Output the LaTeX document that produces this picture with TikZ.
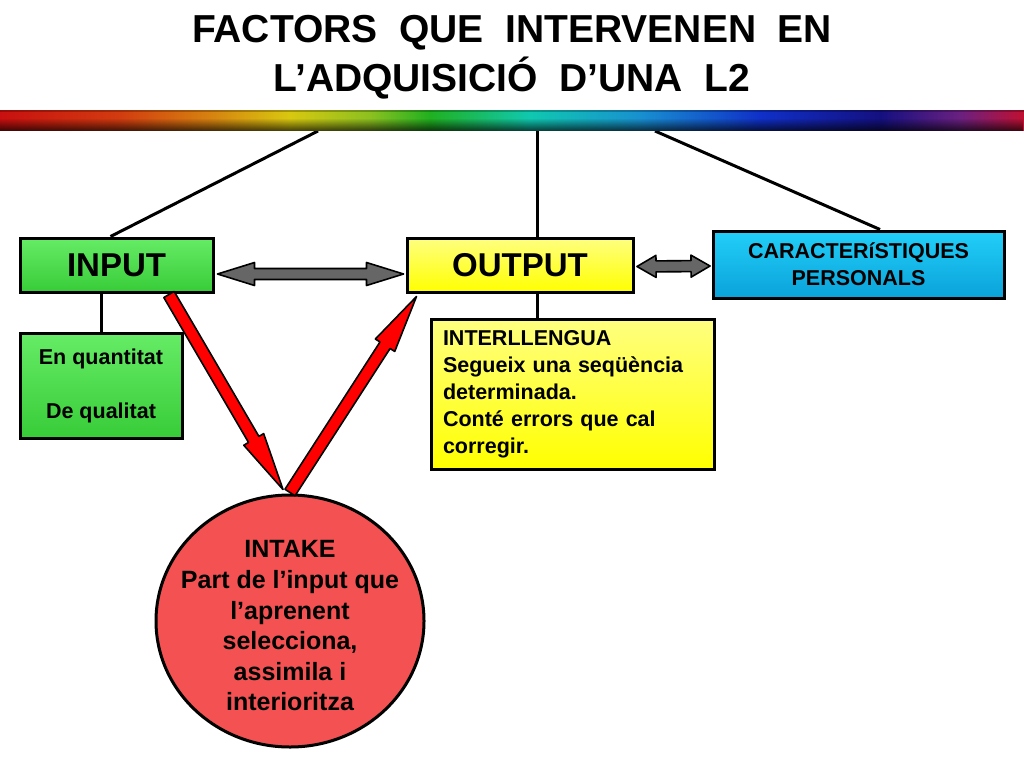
\documentclass[tikz,border=0pt]{standalone}
\usepackage{fontspec}
\setmainfont{Liberation Sans}
\usetikzlibrary{calc,shapes.geometric,fadings}
\definecolor{grtop}{HTML}{66EC66}
\definecolor{grbot}{HTML}{38CC38}
\definecolor{yeltop}{HTML}{FFFF80}
\definecolor{yelbot}{HTML}{FFFF00}
\definecolor{cytop}{HTML}{22CFF8}
\definecolor{cybot}{HTML}{0AA2DA}
\definecolor{intakered}{HTML}{F45252}
\definecolor{arrred}{HTML}{FF0000}
\definecolor{arrgray}{HTML}{666666}
\pgfdeclarelayer{background}
\pgfsetlayers{background,main}
\tikzfading[name=fadeup, top color=transparent!100, bottom color=transparent!0]
% single-headed block arrow: #1 style, #2 start, #3 end, #4 shaft half width, #5 head half width, #6 head length
\newcommand{\blkarrow}[6]{%
  \coordinate (baA) at #2;
  \coordinate (baB) at #3;
  \coordinate (baH) at ($(baB)!#6!(baA)$);
  \filldraw[#1] ($(baA)!#4!90:(baB)$) -- ($(baH)!#4!90:(baB)$) -- ($(baH)!#5!90:(baB)$) -- (baB)
    -- ($(baH)!#5!-90:(baB)$) -- ($(baH)!#4!-90:(baB)$) -- ($(baA)!#4!-90:(baB)$) -- cycle;}
% double-headed block arrow
\newcommand{\dblarrow}[6]{%
  \coordinate (daA) at #2;
  \coordinate (daB) at #3;
  \coordinate (daH) at ($(daA)!#6!(daB)$);
  \coordinate (daK) at ($(daB)!#6!(daA)$);
  \filldraw[#1] (daA) -- ($(daH)!#5!90:(daB)$) -- ($(daH)!#4!90:(daB)$) -- ($(daK)!#4!90:(daB)$)
    -- ($(daK)!#5!90:(daB)$) -- (daB) -- ($(daK)!#5!-90:(daB)$) -- ($(daK)!#4!-90:(daB)$)
    -- ($(daH)!#4!-90:(daB)$) -- ($(daH)!#5!-90:(daB)$) -- cycle;}
\begin{document}
\begin{tikzpicture}[x=1pt,y=-1pt,
  conn/.style={line width=3pt, draw=black},
  box/.style={draw=black, line width=3pt, inner sep=0pt, align=center},
  greenbox/.style={box, top color=grtop, bottom color=grbot},
  yellowbox/.style={box, top color=yeltop, bottom color=yelbot},
  cyanbox/.style={box, top color=cytop, bottom color=cybot},
  titletext/.style={font=\bfseries\fontsize{39}{45}\selectfont, inner sep=0pt},
  bigtext/.style={font=\bfseries\fontsize{33}{40}\selectfont},
  midtext/.style={font=\bfseries\fontsize{21.5}{27}\selectfont},
  redarrow/.style={fill=arrred, draw=black, line width=1.6pt, line join=round},
  grayarrow/.style={fill=arrgray, draw=black, line width=1.6pt, line join=round}
]
\path[use as bounding box] (0,0) rectangle (1024,768);
\begin{pgfonlayer}{background}
\fill[white] (0,0) rectangle (1024,768);
\end{pgfonlayer}

% title
\node[titletext] (title1) at (512,33) {FACTORS\ \ QUE\ \ INTERVENEN\ \ EN};
\node[titletext] (title2) at (512,78) {L’ADQUISICIÓ\ \ D’UNA\ \ L2};

% rainbow bar
\shade[left color={rgb,255:red,200;green,16;blue,16}, right color={rgb,255:red,210;green,60;blue,16}] (0,110) rectangle (120,130);
\shade[left color={rgb,255:red,210;green,60;blue,16}, right color={rgb,255:red,214;green,130;blue,16}] (120,110) rectangle (210,130);
\shade[left color={rgb,255:red,214;green,130;blue,16}, right color={rgb,255:red,216;green,200;blue,16}] (210,110) rectangle (290,130);
\shade[left color={rgb,255:red,216;green,200;blue,16}, right color={rgb,255:red,140;green,192;blue,32}] (290,110) rectangle (370,130);
\shade[left color={rgb,255:red,140;green,192;blue,32}, right color={rgb,255:red,32;green,176;blue,32}] (370,110) rectangle (430,130);
\shade[left color={rgb,255:red,32;green,176;blue,32}, right color={rgb,255:red,16;green,200;blue,176}] (430,110) rectangle (530,130);
\shade[left color={rgb,255:red,16;green,200;blue,176}, right color={rgb,255:red,24;green,144;blue,208}] (530,110) rectangle (640,130);
\shade[left color={rgb,255:red,24;green,144;blue,208}, right color={rgb,255:red,16;green,48;blue,200}] (640,110) rectangle (760,130);
\shade[left color={rgb,255:red,16;green,48;blue,200}, right color={rgb,255:red,20;green,16;blue,128}] (760,110) rectangle (880,130);
\shade[left color={rgb,255:red,20;green,16;blue,128}, right color={rgb,255:red,106;green,32;blue,128}] (880,110) rectangle (960,130);
\shade[left color={rgb,255:red,106;green,32;blue,128}, right color={rgb,255:red,192;green,16;blue,48}] (960,110) rectangle (1024,130);
\fill[black, opacity=0.7, path fading=fadeup] (0,118) rectangle (1024,131);
\fill[black, opacity=0.25] (0,110) rectangle (1024,111.5);

\coordinate (bar1) at (318,131);
\coordinate (bar2) at (537,131);
\coordinate (bar3) at (655,131);

% nodes
\node[greenbox, bigtext, minimum width=193pt, minimum height=54pt] (input) at (116.5,265) {INPUT};
\node[yellowbox, bigtext, minimum width=226pt, minimum height=54pt] (output) at (520,265) {OUTPUT};
\node[cyanbox, midtext, minimum width=291pt, minimum height=67pt] (caract) at (858.5,264.5) {CARACTERíSTIQUES\\PERSONALS};
\node[greenbox, midtext, minimum width=162pt, minimum height=105pt] (quant) at (101,385.5) {En quantitat\\[27pt]De qualitat};
\node[yellowbox, midtext, align=left, text width=259pt, inner xsep=12pt, minimum height=150pt] (inter) at (572.5,394) {INTERLLENGUA\\Segueix una seqüència\\determinada.\\Conté errors que cal\\corregir.};
\node[ellipse, draw=black, line width=3pt, fill=intakered, minimum width=268pt, minimum height=252pt, inner sep=0pt] (intake) at (290,621) {};
\node[align=center, font=\bfseries\fontsize{25}{30.6}\selectfont, inner sep=0pt] (intaketext) at (290,626) {INTAKE\\Part de l’input que\\l’aprenent\\selecciona,\\assimila i\\interioritza};

% connectors (behind the boxes)
\begin{pgfonlayer}{background}
\draw[conn] (bar1) -- ([xshift=-6pt]input.north);
\draw[conn] (bar2) -- (output.north -| bar2);
\draw[conn] (bar3) -- ([xshift=21.5pt]caract.north);
\draw[conn] (quant.north) -- (input.south -| quant.north);
\draw[conn] (output.south -| bar2) -- (inter.north -| bar2);
\end{pgfonlayer}

% double arrows
\dblarrow{grayarrow}{([shift={(3pt,-9pt)}]input.east)}{([shift={(-2pt,-9pt)}]output.west)}{5.5pt}{11.5pt}{37pt}
\dblarrow{grayarrow}{([shift={(2.5pt,-1.5pt)}]output.east)}{([shift={(-1.5pt,-1.5pt)}]caract.west)}{5.5pt}{11pt}{19pt}

% red arrows
\blkarrow{redarrow}{([xshift=52.5pt,yshift=-1pt]input.south)}{([xshift=-7pt,yshift=4pt]intake.north)}{6pt}{11.5pt}{58pt}
\blkarrow{redarrow}{([yshift=1pt]intake.north)}{([xshift=11pt,yshift=-3pt]output.south west)}{6pt}{11.5pt}{58pt}
\end{tikzpicture}
\end{document}
